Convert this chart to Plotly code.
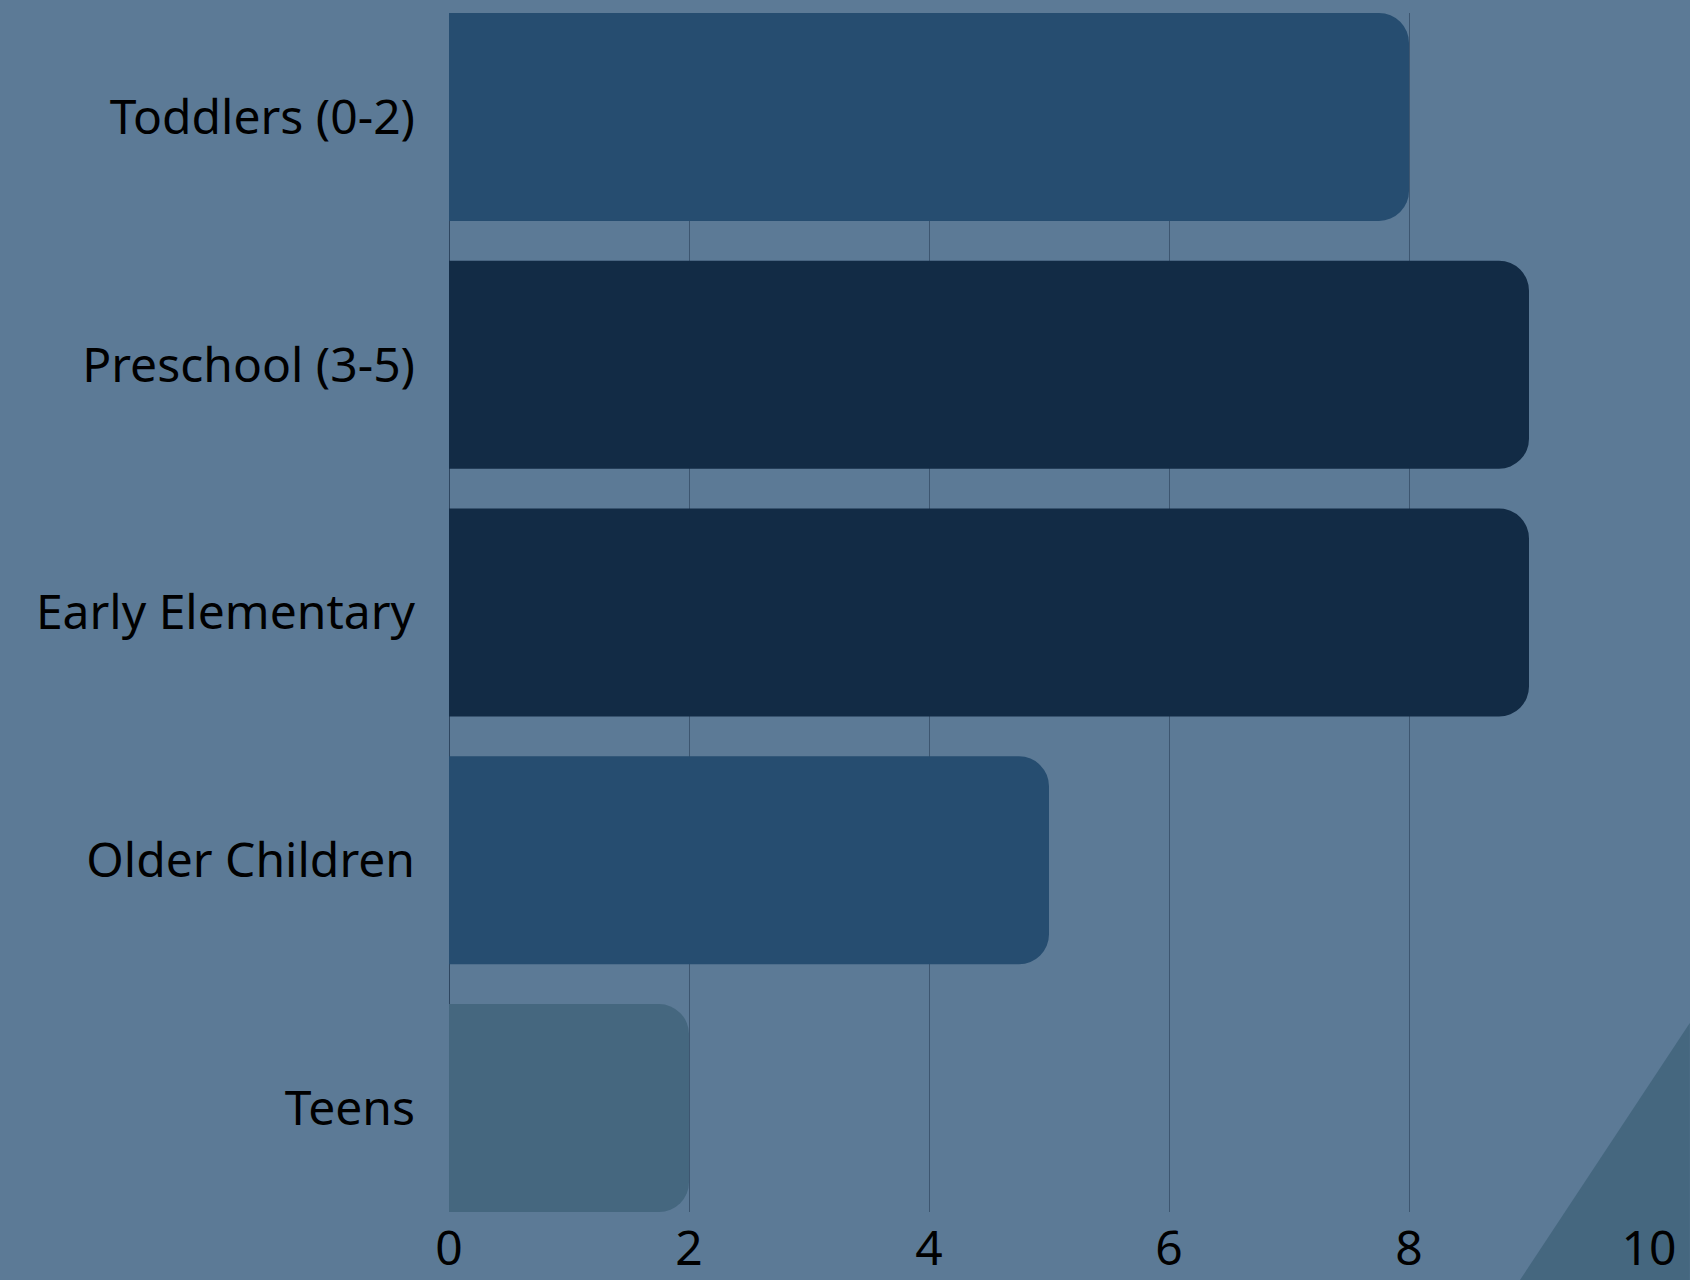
import plotly.graph_objects as go

categories = ["Toddlers (0-2)", "Preschool (3-5)", "Early Elementary", "Older Children", "Teens"]
values = [8, 9, 9, 5, 2]
bar_colors = ["#264d70", "#122b45", "#122b45", "#264d70", "#45677f"]
tick_vals = [0, 2, 4, 6, 8, 10]

BG = "#5c7a96"
GAP = 0.161

fig = go.Figure()
fig.add_trace(go.Bar(
    x=values,
    y=categories,
    orientation="h",
    marker=dict(color=bar_colors, line=dict(width=0)),
    hoverinfo="skip",
))

fig.add_shape(
    type="path",
    xref="paper", yref="paper",
    path="M 0.8925 -0.0567 L 1.034 0.1576 L 1.034 -0.0567 Z",
    fillcolor="#45677f",
    line=dict(width=0),
    layer="below",
)

fig.update_layout(
    width=1690,
    height=1280,
    paper_bgcolor=BG,
    plot_bgcolor=BG,
    margin=dict(l=449, r=41, t=13, b=68, autoexpand=False),
    bargap=GAP,
    barcornerradius=30,
    showlegend=False,
    font=dict(family="Noto Sans", size=48, color="#000000"),
    xaxis=dict(
        range=[0, 10],
        tickvals=tick_vals,
        ticktext=[str(v) for v in tick_vals],
        showgrid=True,
        gridcolor="#3d5670",
        gridwidth=1,
        zeroline=True,
        zerolinecolor="#2e4660",
        zerolinewidth=1,
        showline=False,
        ticks="",
        ticklabelstandoff=4,
        tickfont=dict(family="Noto Sans", size=48, color="#000000"),
        fixedrange=True,
    ),
    yaxis=dict(
        categoryorder="array",
        categoryarray=categories,
        range=[len(categories) - 0.5 - GAP / 2, -0.5 + GAP / 2],
        showgrid=False,
        zeroline=False,
        showline=False,
        ticks="",
        ticklabelstandoff=33,
        tickfont=dict(family="Noto Sans", size=48, color="#000000"),
        fixedrange=True,
    ),
)

fig.write_html(
    "out.html",
    config={"displayModeBar": False},
    post_script="document.body.style.margin='0';document.body.style.background='%s';" % BG,
)
